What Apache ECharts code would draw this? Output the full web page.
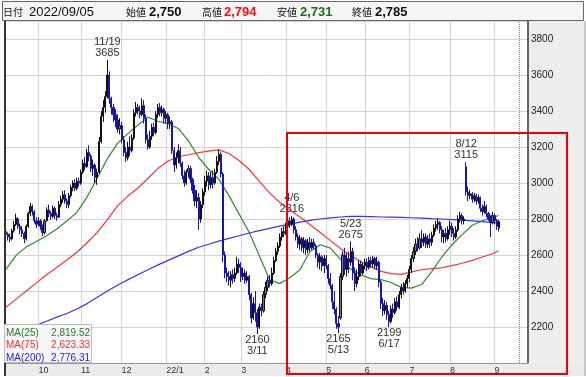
<!DOCTYPE html>
<html>
<head>
<meta charset="utf-8">
<script src="https://cdn.jsdelivr.net/npm/echarts@6/dist/echarts.min.js"></script>
<style>
  html, body { margin: 0; padding: 0; background: #fff; }
  #main { width: 586px; height: 377px; }
</style>
</head>
<body>
<div id="main"></div>
<script>
// 営業日（最後の14日は右側の空き）
const dates = [
  '21/09/07','21/09/08','21/09/09','21/09/10','21/09/13','21/09/14','21/09/15','21/09/16','21/09/17','21/09/21','21/09/22','21/09/24','21/09/27','21/09/28','21/09/29','21/09/30',
  '21/10/01','21/10/04','21/10/05','21/10/06','21/10/07','21/10/08','21/10/11','21/10/12','21/10/13','21/10/14','21/10/15','21/10/18','21/10/19','21/10/20','21/10/21','21/10/22','21/10/25','21/10/26','21/10/27','21/10/28','21/10/29',
  '21/11/01','21/11/02','21/11/04','21/11/05','21/11/08','21/11/09','21/11/10','21/11/11','21/11/12','21/11/15','21/11/16','21/11/17','21/11/18','21/11/19','21/11/22','21/11/24','21/11/25','21/11/26','21/11/29','21/11/30',
  '21/12/01','21/12/02','21/12/03','21/12/06','21/12/07','21/12/08','21/12/09','21/12/10','21/12/13','21/12/14','21/12/15','21/12/16','21/12/17','21/12/20','21/12/21','21/12/22','21/12/23','21/12/24','21/12/27','21/12/28','21/12/29','21/12/30',
  '22/01/04','22/01/05','22/01/06','22/01/07','22/01/11','22/01/12','22/01/13','22/01/14','22/01/17','22/01/18','22/01/19','22/01/20','22/01/21','22/01/24','22/01/25','22/01/26','22/01/27','22/01/28','22/01/31',
  '22/02/01','22/02/02','22/02/03','22/02/04','22/02/07','22/02/08','22/02/09','22/02/10','22/02/14','22/02/15','22/02/16','22/02/17','22/02/18','22/02/21','22/02/22','22/02/24','22/02/25','22/02/28',
  '22/03/01','22/03/02','22/03/03','22/03/04','22/03/07','22/03/08','22/03/09','22/03/10','22/03/11','22/03/14','22/03/15','22/03/16','22/03/17','22/03/18','22/03/22','22/03/23','22/03/24','22/03/25','22/03/28','22/03/29','22/03/30','22/03/31',
  '22/04/01','22/04/04','22/04/05','22/04/06','22/04/07','22/04/08','22/04/11','22/04/12','22/04/13','22/04/14','22/04/15','22/04/18','22/04/19','22/04/20','22/04/21','22/04/22','22/04/25','22/04/26','22/04/27','22/04/28',
  '22/05/02','22/05/06','22/05/09','22/05/10','22/05/11','22/05/12','22/05/13','22/05/16','22/05/17','22/05/18','22/05/19','22/05/20','22/05/23','22/05/24','22/05/25','22/05/26','22/05/27','22/05/30','22/05/31',
  '22/06/01','22/06/02','22/06/03','22/06/06','22/06/07','22/06/08','22/06/09','22/06/10','22/06/13','22/06/14','22/06/15','22/06/16','22/06/17','22/06/20','22/06/21','22/06/22','22/06/23','22/06/24','22/06/27','22/06/28','22/06/29','22/06/30',
  '22/07/01','22/07/04','22/07/05','22/07/06','22/07/07','22/07/08','22/07/11','22/07/12','22/07/13','22/07/14','22/07/15','22/07/19','22/07/20','22/07/21','22/07/22','22/07/25','22/07/26','22/07/27','22/07/28','22/07/29',
  '22/08/01','22/08/02','22/08/03','22/08/04','22/08/05','22/08/08','22/08/09','22/08/10','22/08/12','22/08/15','22/08/16','22/08/17','22/08/18','22/08/19','22/08/22','22/08/23','22/08/24','22/08/25','22/08/26','22/08/29','22/08/30','22/08/31',
  '22/09/01','22/09/02','22/09/05',
  '22/09/06','22/09/07','22/09/08','22/09/09','22/09/12','22/09/13','22/09/14','22/09/15','22/09/16','22/09/20','22/09/21','22/09/22','22/09/26','22/09/27'
]

// [始値, 終値, 安値, 高値]
const ohlc = [
  [2730,2715,2700,2745],[2715,2700,2680,2725],[2700,2690,2670,2720],[2690,2735,2680,2745],[2735,2770,2725,2790],[2770,2805,2760,2830],[2800,2760,2745,2810],[2760,2740,2715,2775],[2740,2720,2700,2760],[2720,2690,2665,2730],[2690,2760,2680,2770],[2760,2830,2750,2840],[2830,2870,2815,2890],[2870,2840,2820,2880],[2840,2790,2775,2850],[2790,2770,2750,2810],
  [2770,2790,2760,2810],[2790,2760,2740,2800],[2760,2725,2705,2770],[2725,2790,2715,2800],[2790,2850,2785,2865],[2850,2830,2810,2880],[2830,2815,2795,2845],[2815,2860,2805,2875],[2860,2820,2800,2870],[2820,2810,2790,2835],[2810,2880,2805,2900],[2880,2910,2865,2930],[2910,2935,2890,2955],[2935,2900,2885,2960],[2900,2880,2860,2915],[2880,2930,2860,2945],[2930,2975,2920,2990],[2975,3000,2955,3015],[3000,2970,2955,3020],[2970,3010,2960,3030],[3010,3000,2980,3030],
  [3000,3060,2990,3075],[3060,3110,3050,3130],[3110,3090,3070,3145],[3090,3170,3085,3190],[3170,3150,3120,3210],[3150,3080,3060,3160],[3080,3100,3040,3130],[3100,3030,3000,3110],[3030,3060,2990,3080],[3060,3230,3050,3255],[3230,3370,3220,3400],[3370,3420,3340,3460],[3420,3480,3390,3510],[3480,3600,3470,3685],[3600,3470,3440,3620],[3470,3420,3380,3480],[3420,3380,3340,3440],[3380,3350,3310,3410],[3350,3300,3280,3380],[3300,3320,3270,3360],
  [3320,3240,3220,3340],[3240,3170,3150,3260],[3170,3140,3117,3200],[3140,3200,3125,3230],[3200,3180,3150,3260],[3180,3250,3170,3270],[3250,3390,3240,3410],[3390,3420,3370,3450],[3420,3400,3380,3440],[3400,3380,3360,3430],[3380,3430,3370,3470],[3430,3360,3330,3460],[3360,3240,3220,3380],[3240,3200,3185,3270],[3200,3260,3190,3290],[3260,3310,3240,3330],[3310,3280,3260,3335],[3280,3380,3270,3400],[3380,3420,3360,3440],[3420,3390,3370,3445],[3390,3410,3370,3430],[3410,3360,3330,3420],
  [3360,3380,3330,3400],[3380,3330,3300,3390],[3330,3340,3300,3370],[3340,3180,3160,3350],[3180,3100,3060,3200],[3100,3140,3080,3170],[3140,3180,3110,3215],[3180,3110,3090,3200],[3110,3040,3020,3120],[3040,3000,2980,3070],[3000,3060,2990,3075],[3060,3080,3030,3100],[3080,3020,3000,3095],[3020,2960,2940,3030],[2960,2900,2870,2990],[2900,2920,2860,2960],[2920,2800,2740,2945],[2800,2880,2780,2900],[2880,2950,2860,2970],
  [2950,3010,2930,3040],[3010,3040,2980,3070],[3040,2990,2960,3060],[2990,3030,2970,3060],[3030,3000,2970,3070],[3000,3060,2990,3080],[3060,3120,3050,3150],[3120,3160,3100,3185],[3160,3050,3030,3170],[3050,2600,2560,3060],[2600,2500,2470,2620],[2500,2480,2450,2530],[2480,2460,2430,2510],[2460,2490,2420,2510],[2490,2470,2440,2520],[2470,2500,2450,2530],[2500,2550,2490,2590],[2550,2530,2500,2580],
  [2530,2480,2450,2560],[2480,2500,2460,2530],[2500,2460,2440,2520],[2460,2480,2445,2510],[2480,2380,2350,2490],[2380,2250,2220,2390],[2250,2330,2240,2365],[2330,2280,2230,2400],[2280,2200,2160,2300],[2200,2310,2190,2330],[2310,2290,2260,2330],[2290,2380,2280,2400],[2380,2420,2360,2450],[2420,2460,2400,2480],[2460,2440,2420,2490],[2440,2500,2430,2530],[2500,2570,2490,2590],[2570,2620,2560,2640],[2620,2650,2600,2670],[2650,2700,2640,2720],[2700,2730,2680,2750],[2730,2720,2700,2760],
  [2720,2760,2710,2780],[2760,2790,2740,2800],[2790,2770,2750,2810],[2770,2800,2760,2816],[2800,2740,2720,2810],[2740,2700,2680,2760],[2700,2660,2640,2720],[2660,2690,2630,2710],[2690,2640,2620,2700],[2640,2680,2610,2700],[2680,2630,2600,2690],[2630,2670,2610,2690],[2670,2640,2620,2700],[2640,2670,2630,2690],[2670,2650,2630,2690],[2650,2600,2580,2660],[2600,2560,2530,2610],[2560,2590,2520,2610],[2590,2540,2510,2600],[2540,2580,2500,2600],
  [2580,2540,2520,2600],[2540,2470,2440,2550],[2470,2430,2410,2500],[2430,2340,2300,2440],[2340,2300,2270,2400],[2300,2220,2190,2310],[2220,2200,2165,2260],[2250,2480,2240,2500],[2480,2600,2460,2620],[2600,2520,2490,2640],[2520,2580,2480,2610],[2580,2560,2500,2620],[2560,2620,2540,2675],[2620,2500,2460,2640],[2500,2440,2400,2530],[2440,2480,2420,2520],[2480,2550,2460,2570],[2550,2500,2480,2570],[2500,2540,2490,2560],
  [2540,2560,2520,2580],[2560,2530,2510,2580],[2530,2570,2520,2590],[2570,2550,2530,2590],[2550,2580,2530,2595],[2580,2540,2520,2590],[2540,2560,2520,2590],[2560,2450,2420,2570],[2450,2330,2300,2460],[2330,2290,2260,2360],[2290,2320,2270,2350],[2320,2270,2240,2340],[2270,2230,2199,2290],[2230,2300,2220,2320],[2300,2280,2250,2330],[2280,2340,2270,2360],[2340,2310,2290,2370],[2310,2380,2300,2400],[2380,2420,2360,2440],[2420,2400,2380,2450],[2400,2440,2390,2460],[2440,2470,2420,2490],
  [2470,2520,2450,2540],[2520,2580,2500,2600],[2580,2620,2560,2645],[2620,2660,2600,2690],[2660,2640,2620,2700],[2640,2690,2630,2720],[2690,2670,2640,2740],[2670,2700,2650,2720],[2700,2660,2640,2720],[2660,2690,2640,2710],[2690,2670,2640,2720],[2670,2710,2650,2730],[2710,2750,2700,2770],[2750,2770,2730,2790],[2770,2780,2740,2800],[2780,2740,2720,2790],[2740,2700,2670,2760],[2700,2720,2665,2740],[2720,2690,2670,2750],[2690,2740,2680,2760],
  [2740,2760,2710,2790],[2760,2720,2700,2780],[2720,2700,2680,2750],[2700,2740,2690,2760],[2740,2800,2730,2820],[2800,2820,2780,2840],[2820,2790,2770,2830],[2790,2800,2770,2815],[3090,2950,2930,3115],[2950,2930,2900,2980],[2930,2940,2910,2960],[2940,2910,2890,2950],[2910,2930,2895,2945],[2930,2900,2880,2940],[2900,2920,2885,2935],[2920,2860,2840,2925],[2860,2840,2820,2880],[2840,2870,2830,2900],[2870,2830,2810,2880],[2830,2800,2790,2840],[2800,2780,2700,2820],[2780,2820,2770,2840],
  [2820,2790,2770,2830],[2790,2760,2740,2800],[2750,2785,2731,2794]
]

// 移動平均（5営業日ごとに読み取った値）
const maIdx = [0,5,10,15,20,25,30,35,40,45,50,55,60,65,70,75,80,85,90,95,100,105,110,115,120,125,130,135,140,145,150,155,160,165,170,175,180,185,190,195,200,205,210,215,220,225,230,235,240,243]
const ma25 = [2521,2598,2645,2675,2707,2744,2789,2837,2923,3028,3135,3220,3273,3321,3365,3343,3329,3303,3234,3143,3075,3020,2930,2827,2725,2595,2464,2441,2474,2518,2619,2657,2638,2576,2522,2490,2469,2463,2447,2420,2416,2436,2508,2589,2657,2713,2765,2790,2808,2819.52]
const ma75 = [2310,2355,2400,2445,2490,2530,2572,2615,2668,2726,2797,2873,2926,2971,3025,3081,3122,3146,3157,3169,3177,3184,3164,3125,3075,3009,2945,2893,2850,2811,2768,2725,2680,2636,2597,2564,2535,2509,2497,2492,2506,2518,2524,2529,2541,2554,2570,2589,2607,2623.33]
const ma200 = [2150,2170,2190,2210,2232,2255,2275,2300,2330,2365,2400,2432,2462,2490,2518,2545,2570,2595,2620,2643,2660,2677,2692,2707,2722,2735,2748,2760,2772,2783,2792,2800,2806,2811,2815,2815,2813,2811,2810,2809,2807,2805,2802,2800,2797,2794,2790,2785,2780,2776.31]

// 高値・安値の注記
const highDates = ['21/11/19','22/04/06','22/05/23','22/08/12']
const highValues = [3685, 2816, 2675, 3115]
const lowDates = ['22/03/11','22/05/13','22/06/17']
const lowValues = [2160, 2165, 2199]

const maNames = ['MA(25)', 'MA(75)', 'MA(200)']
const maColors = ['#2e8b2e', '#ff3333', '#3333ff']
const maTextColors = ['#2a7a2a', '#ff3030', '#2020ff']

const jp = '"Noto Sans CJK JP", sans-serif'
const num = '"Liberation Sans", Arial, sans-serif'

function fmt(v, d) {
  return v.toLocaleString('en-US', { minimumFractionDigits: d, maximumFractionDigits: d })
}
function isMonthStart(i) {
  return i > 0 && dates[i].slice(0, 5) !== dates[i - 1].slice(0, 5)
}
function shortDate(s) {
  const p = s.split('/')
  return parseInt(p[1]) + '/' + parseInt(p[2])
}

const chart = echarts.init(document.getElementById('main'))

const last = ohlc[ohlc.length - 1]
const lastDate = '20' + dates[ohlc.length - 1]

// ヘッダー
const header = [
  { x: 3, text: '日付', font: '10px ' + jp, fill: '#111' },
  { x: 29, text: lastDate, font: '13px ' + num, fill: '#111' },
  { x: 126, text: '始値', font: '10px ' + jp, fill: '#111' },
  { x: 149, text: fmt(last[0], 0), font: 'bold 13px ' + num, fill: '#111' },
  { x: 202, text: '高値', font: '10px ' + jp, fill: '#111' },
  { x: 224, text: fmt(last[3], 0), font: 'bold 13px ' + num, fill: '#ee1111' },
  { x: 277, text: '安値', font: '10px ' + jp, fill: '#111' },
  { x: 300, text: fmt(last[2], 0), font: 'bold 13px ' + num, fill: '#157015' },
  { x: 352, text: '終値', font: '10px ' + jp, fill: '#111' },
  { x: 375, text: fmt(last[1], 0), font: 'bold 13px ' + num, fill: '#111' }
].map(t => ({
  type: 'text', x: t.x, y: 12, z: 50,
  style: { text: t.text, font: t.font, fill: t.fill, verticalAlign: 'middle' }
}))

// MA凡例
const lastMa = [ma25[ma25.length - 1], ma75[ma75.length - 1], ma200[ma200.length - 1]]
const legend = [{
  type: 'rect', z: 60,
  shape: { x: 4.5, y: 324.5, width: 87, height: 38 },
  style: { fill: '#f7f7f7', stroke: '#bbb', lineWidth: 1 }
}]
maNames.forEach((n, i) => {
  legend.push({
    type: 'text', x: 6, y: 333 + i * 12.5, z: 61,
    style: { text: n, font: '10px ' + num, fill: maTextColors[i], verticalAlign: 'middle' }
  })
  legend.push({
    type: 'text', x: 90, y: 333 + i * 12.5, z: 61,
    style: { text: fmt(lastMa[i], 2), font: '10px ' + num, fill: maTextColors[i], align: 'right', verticalAlign: 'middle' }
  })
})

const markData = []
highDates.forEach((d, i) => {
  markData.push({
    coord: [d, highValues[i]],
    label: { position: 'top', distance: 1, formatter: shortDate(d) + '\n' + highValues[i] }
  })
})
lowDates.forEach((d, i) => {
  markData.push({
    coord: [d, lowValues[i]],
    label: { position: 'bottom', distance: 0, formatter: lowValues[i] + '\n' + shortDate(d) }
  })
})

function maSeries(name, values, color) {
  return {
    name: name,
    type: 'line',
    data: maIdx.map((d, i) => [dates[d], values[i]]),
    showSymbol: false,
    symbol: 'none',
    lineStyle: { color: color, width: 1.2 },
    z: 3,
    silent: true
  }
}

const option = {
  animation: false,
  backgroundColor: '#fff',
  grid: { left: 5, right: 58, top: 21, height: 342 },
  xAxis: {
    type: 'category',
    data: dates,
    boundaryGap: true,
    axisLine: { show: true, lineStyle: { color: '#999' } },
    axisTick: { show: false },
    axisLabel: {
      interval: (i) => isMonthStart(i),
      formatter: (v) => {
        const p = v.split('/')
        const m = parseInt(p[1])
        return m === 1 ? p[0] + '/1' : String(m)
      },
      fontFamily: num, fontSize: 9, color: '#333', align: 'left', margin: 3
    },
    splitLine: {
      show: true,
      interval: (i) => isMonthStart(i),
      alignWithLabel: true,
      lineStyle: { color: '#d4d4d4', width: 1 }
    }
  },
  yAxis: {
    type: 'value',
    position: 'right',
    min: 2000,
    max: 3900,
    interval: 200,
    axisLine: { show: false },
    axisTick: { show: false },
    axisLabel: {
      formatter: (v) => String(v),
      fontFamily: num, fontSize: 10, color: '#222', margin: 3,
      showMinLabel: false, showMaxLabel: false
    },
    splitLine: { lineStyle: { color: '#d4d4d4', width: 1 } }
  },
  series: [
    {
      type: 'candlestick',
      data: ohlc,
      barWidth: 1.6,
      z: 4,
      itemStyle: {
        color: '#777',
        color0: '#1515b5',
        borderColor: '#111',
        borderColor0: '#1515b5',
        borderWidth: 1
      },
      markPoint: {
        symbol: 'rect',
        symbolSize: 1,
        itemStyle: { color: 'rgba(0,0,0,0)' },
        label: { fontFamily: num, fontSize: 11, lineHeight: 11, color: '#333' },
        data: markData
      },
      markLine: {
        silent: true,
        symbol: 'none',
        label: { show: false },
        lineStyle: { color: '#888', type: 'dotted', width: 1 },
        data: [{ xAxis: '22/09/20' }]
      }
    },
    maSeries(maNames[0], ma25, maColors[0]),
    maSeries(maNames[1], ma75, maColors[1]),
    maSeries(maNames[2], ma200, maColors[2])
  ],
  graphic: [
    // 背景パネル
    { type: 'rect', z: -10, shape: { x: 528, y: 21, width: 57, height: 342 }, style: { fill: '#eeeeee' } },
    { type: 'rect', z: -10, shape: { x: 5, y: 363, width: 580, height: 13 }, style: { fill: '#ebebeb' } },
    { type: 'rect', z: 40, shape: { x: 2.5, y: 1.5, width: 581, height: 19 }, style: { fill: '#f6f6f6', stroke: '#666', lineWidth: 1 } },
    { type: 'line', z: 40, shape: { x1: 528, y1: 21, x2: 528, y2: 363 }, style: { stroke: '#333', lineWidth: 1.5 } },
    { type: 'line', z: 40, shape: { x1: 5, y1: 21, x2: 5, y2: 376 }, style: { stroke: '#333', lineWidth: 2 } },
    { type: 'line', z: 40, shape: { x1: 585, y1: 21, x2: 585, y2: 376 }, style: { stroke: '#999', lineWidth: 1 } },
    ...header,
    ...legend,
    // 注目範囲の赤枠
    { type: 'rect', z: 70, shape: { x: 287, y: 133, width: 280, height: 241 }, style: { fill: 'none', stroke: '#ee0000', lineWidth: 2 } }
  ]
}

chart.setOption(option)
</script>
</body>
</html>
